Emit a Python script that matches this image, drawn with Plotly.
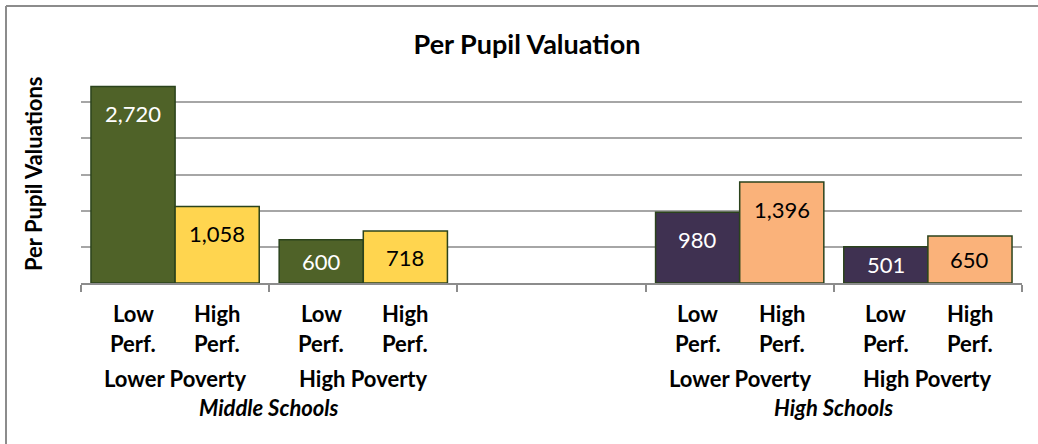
import plotly.graph_objects as go

# groups along the category axis (slot 2 is left empty in the original)
group_pos = [0, 1, 3, 4]
poverty = ["Lower Poverty", "High Poverty", "Lower Poverty", "High Poverty"]
schools = ["Middle Schools", "High Schools"]
school_pos = [0.5, 3.5]

low_perf = [2720, 600, 980, 501]
high_perf = [1058, 718, 1396, 650]

low_colors = ["#4f6228", "#4f6228", "#3f3151", "#3f3151"]
high_colors = ["#ffd54f", "#ffd54f", "#fab27a", "#fab27a"]
low_text = ["white", "white", "white", "white"]
high_text = ["black", "black", "black", "black"]

FONT = "Lato"
BARGAP = 0.106
bw = (1 - BARGAP) / 2
outline = dict(color="#2b431c", width=1.5)

# body margin is reset to 0 in the page, so figure pixels == page pixels
W, H = 1038, 444
L, T, R, B = 81, 66, 16, 444 - 283
PW, PH = W - L - R, H - T - B


def px_x(px):  # page pixel -> paper x
    return (px - L) / PW


def px_y(py):  # page pixel -> paper y
    return (H - B - py) / PH


fig = go.Figure()
fig.add_trace(go.Bar(x=group_pos, y=low_perf, name="Low Perf.",
                     marker=dict(color=low_colors, line=outline),
                     hoverinfo="y"))
fig.add_trace(go.Bar(x=group_pos, y=high_perf, name="High Perf.",
                     marker=dict(color=high_colors, line=outline),
                     hoverinfo="y"))

annotations = []
px_per_unit = PH / 3000.0
lab_font = dict(family=FONT, size=22, color="black")
for vals, cols, side, top, bot in [(low_perf, low_text, -1, "Low", "Perf."),
                                   (high_perf, high_text, 1, "High", "Perf.")]:
    for g, v, c in zip(group_pos, vals, cols):
        xc = g + side * bw / 2
        # Excel style "inside end" label, pushed to the middle on short bars
        ylab = max(v - 27 / px_per_unit, v / 2)
        annotations.append(dict(x=xc, y=ylab, xref="x", yref="y",
                                text=f"{v:,}", showarrow=False, yanchor="middle",
                                font=dict(family=FONT, size=22, color=c)))
        annotations.append(dict(x=xc, y=0, xref="x", yref="paper", yshift=-30,
                                yanchor="middle", text="<b>%s</b>" % top,
                                showarrow=False, font=lab_font))
        annotations.append(dict(x=xc, y=0, xref="x", yref="paper", yshift=-60,
                                yanchor="middle", text="<b>%s</b>" % bot,
                                showarrow=False, font=lab_font))

for g, p in zip(group_pos, poverty):
    annotations.append(dict(x=g, y=0, xref="x", yref="paper", yshift=-95,
                            yanchor="middle", text="<b>%s</b>" % p,
                            showarrow=False, font=lab_font))
for s, sp in zip(schools, school_pos):
    annotations.append(dict(x=sp, y=0, xref="x", yref="paper", yshift=-124,
                            yanchor="middle", text="<b><i>%s</i></b>" % s,
                            showarrow=False, font=lab_font))

annotations.append(dict(x=px_x(33), y=px_y(174), xref="paper", yref="paper",
                        xanchor="center", yanchor="middle",
                        text="<b>Per Pupil Valuations</b>", textangle=-90,
                        showarrow=False, font=dict(family=FONT, size=22, color="black")))

border = dict(color="#8c8c8c", width=2)
fig.update_layout(
    width=W, height=H,
    margin=dict(l=L, r=R, t=T, b=B),
    barmode="group", bargap=BARGAP, bargroupgap=0,
    showlegend=False,
    plot_bgcolor="white", paper_bgcolor="white",
    title=dict(text="<b>Per Pupil Valuation</b>", x=527 / W, xanchor="center",
               y=1 - 45 / H, yanchor="middle",
               font=dict(family=FONT, size=27, color="black")),
    xaxis=dict(range=[-0.5, 4.5], tickvals=[-0.5, 0.5, 1.5, 2.5, 3.5, 4.5],
               showticklabels=False, ticks="outside", ticklen=7, tickwidth=1.5,
               tickcolor="#8c8c8c", showgrid=False, showline=True,
               linecolor="#8c8c8c", linewidth=2, zeroline=False),
    yaxis=dict(range=[0, 3002], tickvals=[500, 1000, 1500, 2000, 2500, 3000],
               showticklabels=False, showgrid=True, gridcolor="#a6a6a6",
               gridwidth=2, zeroline=False, showline=False),
    annotations=annotations,
    shapes=[
        dict(type="line", xref="paper", yref="paper",
             x0=px_x(6), x1=1.1, y0=px_y(6), y1=px_y(6), line=border),
        dict(type="line", xref="paper", yref="paper",
             x0=px_x(6), x1=px_x(6), y0=px_y(6), y1=-1, line=border),
    ],
)

fig.write_html("out.html", config={"displayModeBar": False},
               post_script="document.body.style.margin = '0';")
